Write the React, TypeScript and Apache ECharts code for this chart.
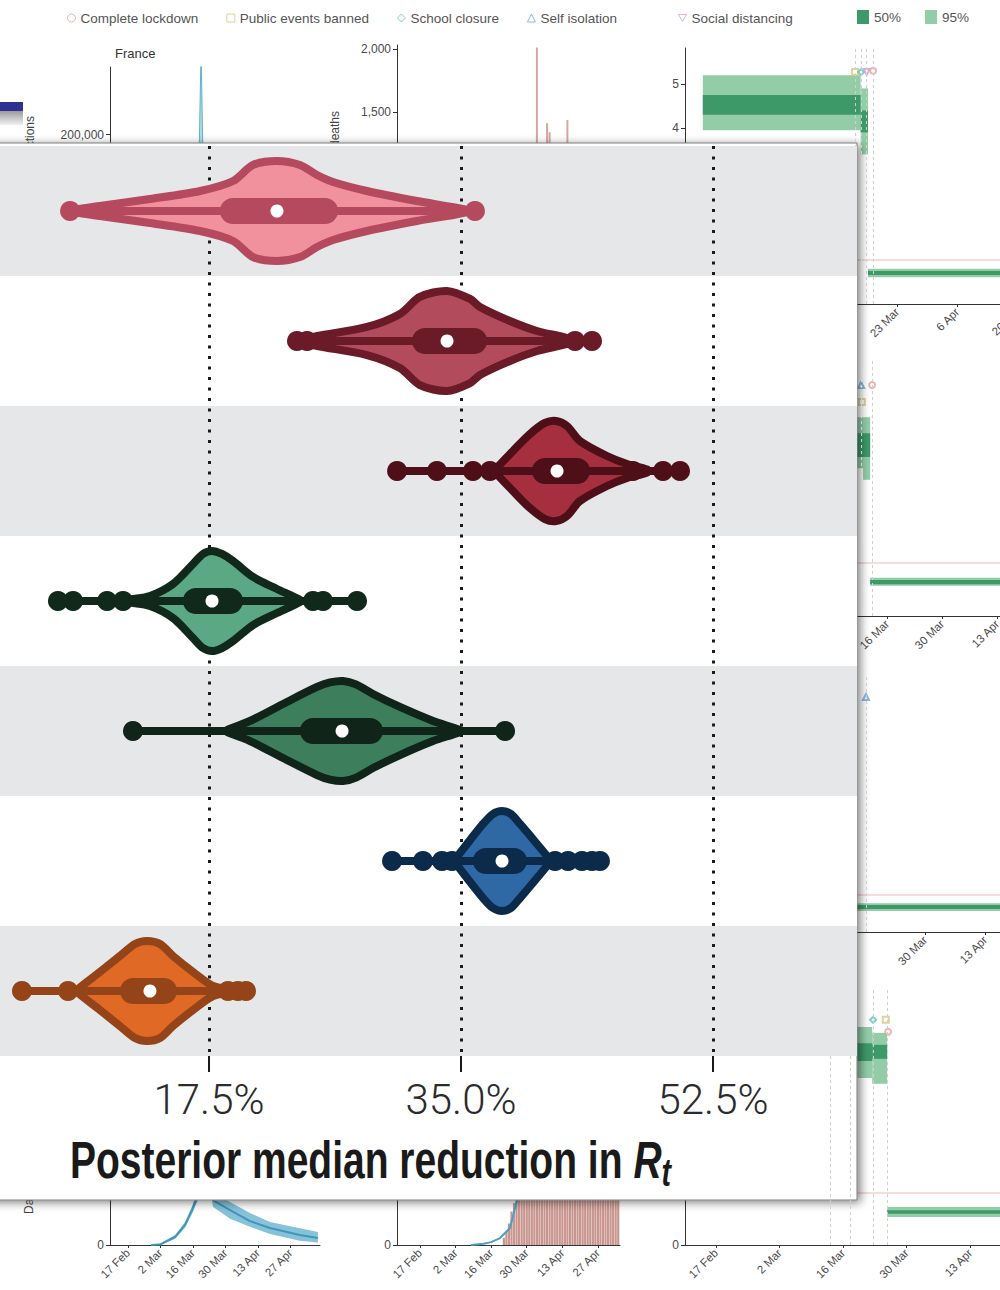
import React, { useEffect, useRef } from 'react';
import * as echarts from 'echarts';

const LIGHT = "Roboto, 'Liberation Sans', sans-serif";
const SANS = "'Liberation Sans', Arial, sans-serif";
const MONTHS = ['Jan', 'Feb', 'Mar', 'Apr', 'May', 'Jun', 'Jul', 'Aug', 'Sep', 'Oct', 'Nov', 'Dec'];

/* ---------------- violin panel: posterior reduction in Rt ---------------- */
const rowNames = ['1', '2', '3', '4', '5', '6', '7'];
const reductionTicks = [0, 17.5, 35, 52.5];

const violinFill = ['#f0919d', '#b24c5d', '#a62f3f', '#5ba984', '#3d7f5c', '#2e69a6', '#e06a25'];
const violinEdge = ['#b5495d', '#6b1a28', '#4f0f18', '#10291b', '#10241a', '#0c2a4a', '#95441a'];

const medians = [22.22, 34.03, 41.67, 17.71, 26.74, 37.85, 13.4];
const boxLow = [18.26, 31.6, 39.93, 15.69, 23.82, 35.83, 11.32];
const boxHigh = [26.46, 36.81, 43.96, 19.86, 29.58, 39.58, 15.28];
const whiskerLow = [7.85, 23.61, 30.56, 7.01, 12.22, 30.21, 4.51];
const whiskerHigh = [35.97, 44.1, 50.21, 27.78, 38.06, 44.65, 20.07];

// density profile of each posterior: positions (%) and relative half-heights
const densityAt = [
  [8.19, 9.93, 13.4, 16.88, 19.17, 20.56, 22.22, 23.82, 25.0, 26.11, 28.47, 31.94, 35.28],
  [23.82, 25.0, 28.47, 30.76, 32.15, 34.03, 35.63, 36.32, 38.4, 40.28, 42.57],
  [37.36, 38.61, 39.79, 40.83, 41.6, 42.36, 43.26, 45.14, 46.53, 47.92],
  [11.81, 13.4, 15.0, 16.39, 17.08, 17.71, 18.4, 19.17, 20.56, 22.22, 23.82],
  [18.75, 20.35, 22.64, 25.0, 25.9, 26.81, 27.71, 28.89, 30.76, 33.06, 34.93],
  [34.58, 35.42, 36.53, 37.22, 37.85, 38.47, 39.1, 40.28, 41.18],
  [8.33, 9.93, 11.32, 12.36, 13.19, 14.1, 15.0, 16.39, 17.78, 19.17],
];
const densityHeight = [
  [0.02, 0.1, 0.24, 0.4, 0.6, 0.92, 1.0, 0.92, 0.72, 0.58, 0.4, 0.2, 0.03],
  [0.02, 0.1, 0.28, 0.54, 0.88, 1.0, 0.84, 0.68, 0.4, 0.2, 0.04],
  [0.02, 0.4, 0.74, 0.96, 1.0, 0.9, 0.6, 0.3, 0.14, 0.03],
  [0.02, 0.1, 0.34, 0.74, 0.94, 1.0, 0.94, 0.8, 0.48, 0.24, 0.02],
  [0.02, 0.2, 0.54, 0.88, 0.97, 1.0, 0.93, 0.74, 0.48, 0.2, 0.02],
  [0.02, 0.34, 0.74, 0.94, 1.0, 0.94, 0.74, 0.34, 0.02],
  [0.02, 0.38, 0.7, 0.94, 1.0, 0.94, 0.7, 0.38, 0.1, 0.02],
];
// individual draws in the tails
const tailDraws = [
  [7.85, 35.97],
  [23.61, 24.31, 42.92, 44.1],
  [30.56, 33.33, 35.83, 37.01, 46.94, 49.03, 50.21],
  [7.01, 8.06, 10.42, 11.53, 24.72, 25.42, 27.78],
  [12.22, 38.06],
  [30.21, 32.36, 33.68, 34.38, 41.53, 42.43, 43.4, 44.1, 44.65],
  [4.51, 7.71, 18.82, 19.51, 20.07],
];

/* ---------------- background country panels ---------------- */
// days counted from 17 Feb 2020
const dateTicks = [0, 14, 28, 42, 56, 70];
const franceInfections = [[29.5, 0], [31.5, 300000], [33.5, 0]];
const franceDeaths = [[46, 2010], [50, 1413], [51, 1341], [58, 1437]];

const lowerInfections = [[10, 0], [13.8, 100], [20.3, 1670], [24.6, 4200], [27.6, 7300], [30.2, 10500], [33.2, 25000], [36.6, 9400], [44, 7300], [52.6, 5000], [61.2, 3560], [74.1, 2100], [81.9, 1460]];
const lowerInfectionsBand = [[13.8, 0, 300], [20.3, 1300, 2100], [24.6, 3600, 4800], [27.6, 6500, 8100], [30.2, 9400, 11600], [33.2, 22000, 28000], [36.6, 8000, 11000], [44, 5500, 9000], [52.6, 3800, 6700], [61.2, 2300, 4800], [74.1, 900, 3500], [81.9, 500, 2700]];

const lowerDeathDays = [33, 34, 35, 36, 37, 38, 39, 40, 41, 42, 43, 44, 45, 46, 47, 48, 49, 50, 51, 52, 53, 54, 55, 56, 57, 58, 59, 60, 61, 62, 63, 64, 65, 66, 67, 68, 69, 70, 71, 72, 73, 74, 75, 76, 77, 78];
const lowerDeathCounts = [30, 55, 90, 140, 175, 230, 300, 340, 365, 410, 390, 460, 520, 480, 560, 610, 590, 640, 700, 680, 650, 720, 690, 640, 600, 630, 580, 560, 540, 590, 520, 500, 470, 510, 450, 430, 420, 460, 400, 380, 350, 370, 330, 320, 300, 290];
const lowerDeathModel = [[20, 0], [25, 5], [28, 12], [31.5, 29], [35.4, 71], [38.2, 188], [41, 330]];

// Rt rows: [startDay, endDay, low, high]
const rtBand95 = [
  [[-10.3, 26.5, 3.95, 5.2], [26.5, 28.2, 3.4, 4.9], [28.2, 68.3, 0.61, 0.8]],
  [[-23.4, 21.9, 2.79, 3.75], [21.9, 23.7, 2.57, 3.75], [23.7, 66.9, 0.57, 0.72]],
  [[-14.0, 25.0, 4.5, 6.0], [25.0, 68.8, 0.57, 0.78]],
  [[-6.8, 34.4, 3.21, 4.19], [34.4, 37.7, 3.1, 4.08], [37.7, 71.4, 0.54, 0.73]],
];
const rtBand50 = [
  [[-10.3, 26.5, 4.3, 4.75], [26.5, 28.2, 3.9, 4.4], [28.2, 68.3, 0.66, 0.75]],
  [[-23.4, 23.7, 3.0, 3.45], [23.7, 66.9, 0.6, 0.68]],
  [[-14.0, 25.0, 4.9, 5.6], [25.0, 68.8, 0.62, 0.73]],
  [[-6.8, 34.4, 3.54, 3.88], [34.4, 37.7, 3.58, 3.85], [37.7, 71.4, 0.6, 0.67]],
];
const interventionDays = [[25.2, 26.6, 27.9, 29.4], [21.4, 24.2], [28.2], [25.1, 29.5, 34.6, 37.7]];
const lockdownMarks = [[[29.4, 5.3]], [[24.2, 4.36]], [], [[37.9, 4.1]]];
const eventsBannedMarks = [[[25.2, 5.27]], [[21.6, 4.04]], [], [[37.4, 4.33]]];
const schoolClosureMarks = [[[26.6, 5.27]], [], [], [[34.6, 4.33]]];
const selfIsolationMarks = [[], [[21.4, 4.36]], [[28.2, 6.35]], []];
const socialDistancingMarks = [[[27.9, 5.27]], [], [], []];

const rtRows = [
  { axisY: 304, pxPerUnit: 44, day0: 747, pxPerDay: 4.29, ticks: [35, 49, 63], showY: true, yTicks: [4, 5] },
  { axisY: 616, pxPerUnit: 53, day0: 777, pxPerDay: 3.93, ticks: [28, 42, 56], showY: false, yTicks: [] },
  { axisY: 932, pxPerUnit: 37, day0: 745, pxPerDay: 4.29, ticks: [42, 56], showY: false, yTicks: [] },
  { axisY: 1245, pxPerUnit: 52, day0: 716, pxPerDay: 4.54, ticks: [0, 14, 28, 42, 56], showY: true, yTicks: [0] },
];
const RT_LEFT = 685;
const RT_RIGHT = 1040;
const RT_H = 256;

const markerLook: any = {
  'Complete lockdown': { symbol: 'emptyCircle', color: '#e3a29e', icon: 'circle' },
  'Public events banned': { symbol: 'emptyRect', color: '#d6c784', icon: 'rect' },
  'School closure': { symbol: 'emptyDiamond', color: '#5fc2b6', icon: 'diamond' },
  'Self isolation': { symbol: 'emptyTriangle', color: '#72a8da', icon: 'triangle' },
  'Social distancing': { symbol: 'emptyTriangle', color: '#d29ccf', icon: 'path://M0,0L10,0L5,9Z', rotate: 180 },
};
const COLOR_50 = '#3d9a68';
const COLOR_95 = '#93cda8';

const dayLabel = (d: number) => {
  const dt = new Date(2020, 1, 17 + Math.round(d));
  return dt.getDate() + ' ' + MONTHS[dt.getMonth()];
};
const countLabel = (v: number) => Math.round(v).toLocaleString('en-US');
const smallText = { fontFamily: SANS, fontSize: 11.5, color: '#4a4a4a' };

function dateAxis(gridIndex: number, min: number, max: number, ticks: number[]) {
  return {
    type: 'value', gridIndex, min, max, z: 1,
    axisLine: { show: true, onZero: false, lineStyle: { color: '#333', width: 1 } },
    axisTick: { show: true, length: 3, customValues: ticks, lineStyle: { color: '#333' } },
    axisLabel: { show: true, customValues: ticks, rotate: 45, margin: 6, formatter: dayLabel, ...smallText },
    splitLine: { show: false },
  };
}
function hiddenAxis(gridIndex: number, min: number, max: number) {
  return { type: 'value', gridIndex, min, max, show: false, splitLine: { show: false } };
}
function countAxis(gridIndex: number, max: number, ticks: number[]) {
  return {
    type: 'value', gridIndex, min: 0, max, z: 1,
    axisLine: { show: true, onZero: false, lineStyle: { color: '#333', width: 1 } },
    axisTick: { show: true, length: 4, customValues: ticks, lineStyle: { color: '#333' } },
    axisLabel: { show: true, customValues: ticks, margin: 6, formatter: countLabel, ...smallText, fontSize: 12 },
    splitLine: { show: false },
  };
}

function renderViolin(params: any, api: any) {
  const i = params.dataIndex;
  const row = api.value(1);
  const band = api.size([0, 1])[1];
  const maxHalf = band * 0.385;
  const cy = api.coord([0, row])[1];
  const px = (v: number) => api.coord([v, row])[0];
  const edge = violinEdge[i];
  const xs = densityAt[i];
  const hs = densityHeight[i];
  const top = xs.map((x, k) => [px(x), cy - hs[k] * maxHalf]);
  const bottom = xs.map((x, k) => [px(x), cy + hs[k] * maxHalf]).reverse();
  const whiskerShape = { x1: px(whiskerLow[i]), y1: cy, x2: px(whiskerHigh[i]), y2: cy };
  const children: any[] = [
    { type: 'line', shape: whiskerShape, style: { stroke: edge, lineWidth: 8, lineCap: 'round' } },
    {
      type: 'polygon',
      shape: { points: top.concat(bottom), smooth: 0.3 },
      style: { fill: violinFill[i], stroke: edge, lineWidth: 8, lineJoin: 'round' },
    },
    { type: 'line', shape: { ...whiskerShape }, style: { stroke: edge, lineWidth: 8, lineCap: 'round' } },
  ];
  tailDraws[i].forEach((v) => {
    children.push({ type: 'circle', shape: { cx: px(v), cy, r: 10 }, style: { fill: edge } });
  });
  const b0 = px(boxLow[i]);
  const b1 = px(boxHigh[i]);
  children.push({ type: 'rect', shape: { x: b0, y: cy - 13, width: b1 - b0, height: 26, r: 13 }, style: { fill: edge } });
  children.push({ type: 'circle', shape: { cx: px(medians[i]), cy, r: 6.5 }, style: { fill: '#ffffff' } });
  return { type: 'group', children };
}

function segmentRenderer(color: string) {
  return (params: any, api: any) => {
    const p0 = api.coord([api.value(0), api.value(3)]);
    const p1 = api.coord([api.value(1), api.value(2)]);
    return { type: 'rect', shape: { x: p0[0], y: p0[1], width: p1[0] - p0[0], height: p1[1] - p0[1] }, style: { fill: color } };
  };
}
function bandRenderer(rows: number[][], color: string) {
  return (params: any, api: any) => {
    if (params.dataIndex !== 0) return null;
    const upper = rows.map((r) => api.coord([r[0], r[2]]));
    const lower = rows.map((r) => api.coord([r[0], r[1]])).reverse();
    return { type: 'polygon', shape: { points: upper.concat(lower) }, style: { fill: color } };
  };
}

function buildOption() {
  const grid: any[] = [];
  const xAxis: any[] = [];
  const yAxis: any[] = [];
  const series: any[] = [];

  // violin panel
  grid.push({ left: -43, top: 146, width: 900, height: 910 });
  xAxis.push({
    type: 'value', gridIndex: 0, min: 0, max: 62.5, z: 9,
    axisLine: { show: false },
    axisTick: { show: true, customValues: reductionTicks, length: 16, lineStyle: { color: '#1a1a1a', width: 2 } },
    axisLabel: {
      show: true, customValues: reductionTicks, margin: 22,
      formatter: (v: number) => v.toFixed(1) + '%',
      fontFamily: LIGHT, fontWeight: 300, fontSize: 42, color: '#2b2b2b',
    },
    splitLine: { show: true, lineStyle: { type: [3, 7.5], width: 3, color: '#1a1a1a' } },
  });
  yAxis.push({
    type: 'category', gridIndex: 0, data: rowNames, inverse: true, z: 8,
    axisLine: { show: false }, axisTick: { show: false }, axisLabel: { show: false },
    splitLine: { show: false },
    splitArea: { show: true, interval: 0, areaStyle: { color: ['#e6e7e9', '#ffffff'] } },
  });
  series.push({
    type: 'custom', name: 'Posterior', xAxisIndex: 0, yAxisIndex: 0, z: 10, silent: true,
    renderItem: renderViolin, encode: { x: 0, y: 1 }, data: medians.map((m, i) => [m, i]),
  });

  // France infections
  grid.push({ left: 110, top: 67, width: 210, height: 237 });
  xAxis.push(hiddenAxis(1, -7.76, 82.8));
  yAxis.push(countAxis(1, 280000, [200000]));
  series.push({
    type: 'line', name: 'Infections', xAxisIndex: 1, yAxisIndex: 1, data: franceInfections, symbol: 'none', z: 2,
    lineStyle: { color: '#5fb3cb', width: 1 }, areaStyle: { color: '#8fcadb' },
  });

  // France deaths
  grid.push({ left: 397, top: 45, width: 223, height: 257 });
  xAxis.push(hiddenAxis(2, -9.06, 78.7));
  yAxis.push(countAxis(2, 2030, [1500, 2000]));
  series.push({
    type: 'bar', name: 'Deaths', xAxisIndex: 2, yAxisIndex: 2, data: franceDeaths, barWidth: 2, z: 2,
    itemStyle: { color: '#d7a6a1' },
  });

  // Rt rows
  const markerSets: any[] = [
    ['Complete lockdown', lockdownMarks],
    ['Public events banned', eventsBannedMarks],
    ['School closure', schoolClosureMarks],
    ['Self isolation', selfIsolationMarks],
    ['Social distancing', socialDistancingMarks],
  ];
  rtRows.forEach((r, k) => {
    const gi = grid.length;
    grid.push({ left: RT_LEFT, top: r.axisY - RT_H, width: RT_RIGHT - RT_LEFT, height: RT_H });
    const xMin = (RT_LEFT - r.day0) / r.pxPerDay;
    const xMax = (RT_RIGHT - r.day0) / r.pxPerDay;
    xAxis.push(dateAxis(gi, xMin, xMax, r.ticks));
    if (r.showY) yAxis.push(countAxis(gi, RT_H / r.pxPerUnit, r.yTicks));
    else yAxis.push({ type: 'value', gridIndex: gi, min: 0, max: RT_H / r.pxPerUnit, show: false, splitLine: { show: false } });
    series.push({
      type: 'custom', name: '95%', xAxisIndex: gi, yAxisIndex: gi, z: 2, silent: true,
      renderItem: segmentRenderer(COLOR_95), encode: { x: [0, 1], y: [2, 3] }, data: rtBand95[k], itemStyle: { color: COLOR_95 },
    });
    series.push({
      type: 'custom', name: '50%', xAxisIndex: gi, yAxisIndex: gi, z: 2, silent: true,
      renderItem: segmentRenderer(COLOR_50), encode: { x: [0, 1], y: [2, 3] }, data: rtBand50[k], itemStyle: { color: COLOR_50 },
    });
    series.push({
      type: 'line', name: 'Rt = 1', xAxisIndex: gi, yAxisIndex: gi, z: 2, silent: true, symbol: 'none',
      data: [[xMin, 1], [xMax, 1]], lineStyle: { color: '#efb9b6', width: 1 },
      markLine: {
        silent: true, symbol: 'none', label: { show: false },
        lineStyle: { color: '#cfcfcf', type: [3, 3], width: 1 },
        data: interventionDays[k].map((d) => ({ xAxis: d })),
      },
    });
    markerSets.forEach(([name, sets]) => {
      if (!sets[k].length) return;
      const look = markerLook[name];
      series.push({
        type: 'scatter', name, xAxisIndex: gi, yAxisIndex: gi, z: 3, silent: true,
        symbol: look.symbol, symbolSize: 6, symbolRotate: look.rotate || 0,
        itemStyle: { color: look.color, borderWidth: 1 }, data: sets[k],
      });
    });
  });

  // lower infections panel
  const gl = grid.length;
  grid.push({ left: 110, top: 1006, width: 210, height: 239 });
  xAxis.push(dateAxis(gl, -7.76, 82.8, dateTicks));
  yAxis.push(countAxis(gl, 50000, [0]));
  series.push({
    type: 'custom', name: 'Infections band', xAxisIndex: gl, yAxisIndex: gl, z: 2, silent: true,
    renderItem: bandRenderer(lowerInfectionsBand, '#86c2d8'), encode: { x: 0, y: [1, 2] }, data: lowerInfectionsBand,
  });
  series.push({
    type: 'line', name: 'Infections', xAxisIndex: gl, yAxisIndex: gl, data: lowerInfections, symbol: 'none', z: 3,
    lineStyle: { color: '#3f95ba', width: 2 },
  });

  // lower deaths panel
  const gm = grid.length;
  grid.push({ left: 397, top: 1006, width: 223, height: 239 });
  xAxis.push(dateAxis(gm, -9.06, 78.7, dateTicks));
  yAxis.push(countAxis(gm, 1000, [0]));
  series.push({
    type: 'bar', name: 'Deaths', xAxisIndex: gm, yAxisIndex: gm, barWidth: 2.2, z: 2,
    data: lowerDeathDays.map((d, i) => [d, lowerDeathCounts[i]]), itemStyle: { color: '#c9968f' },
  });
  series.push({
    type: 'line', name: 'Modelled deaths', xAxisIndex: gm, yAxisIndex: gm, data: lowerDeathModel, symbol: 'none', z: 3,
    lineStyle: { color: '#4aa0c0', width: 2 },
  });

  grid.forEach((g) => { g.show = false; g.containLabel = false; g.outerBoundsMode = 'none'; });

  const legendText = { fontFamily: SANS, fontSize: 13.5, color: '#555' };
  const markerLegendItem = (name: string) => ({
    name, icon: markerLook[name].icon,
    itemStyle: { color: '#ffffff', borderColor: markerLook[name].color, borderWidth: 1 },
  });

  return {
    animation: false,
    backgroundColor: '#ffffff',
    grid, xAxis, yAxis, series,
    legend: [
      {
        left: 62, top: 6, itemWidth: 8, itemHeight: 8, itemGap: 28, selectedMode: false, textStyle: legendText,
        data: ['Complete lockdown', 'Public events banned', 'School closure', 'Self isolation'].map(markerLegendItem),
      },
      {
        left: 673, top: 6, itemWidth: 8, itemHeight: 8, selectedMode: false, textStyle: legendText,
        data: [markerLegendItem('Social distancing')],
      },
      {
        left: 852, top: 5, itemWidth: 12, itemHeight: 14, itemGap: 24, selectedMode: false, textStyle: legendText,
        data: [
          { name: '50%', icon: 'rect', itemStyle: { color: COLOR_50 } },
          { name: '95%', icon: 'rect', itemStyle: { color: COLOR_95 } },
        ],
      },
    ],
    graphic: [
      { type: 'rect', z: 1, shape: { x: 0, y: 102, width: 23, height: 9 }, style: { fill: '#2e3192' } },
      {
        type: 'rect', z: 1, shape: { x: 0, y: 111, width: 23, height: 14 },
        style: { fill: new echarts.graphic.LinearGradient(0, 0, 0, 1, [{ offset: 0, color: '#9a9a9a' }, { offset: 1, color: '#f2f2f2' }]) },
      },
      { type: 'text', z: 1, x: 115, y: 53, style: { text: 'France', fontFamily: SANS, fontSize: 13, fill: '#333', verticalAlign: 'middle' } },
      { type: 'text', z: 1, x: 30, y: 116, rotation: Math.PI / 2, style: { text: 'Daily infections', fontFamily: SANS, fontSize: 12, fill: '#444', align: 'right', verticalAlign: 'middle' } },
      { type: 'text', z: 1, x: 335, y: 111, rotation: Math.PI / 2, style: { text: 'Daily deaths', fontFamily: SANS, fontSize: 12, fill: '#444', align: 'right', verticalAlign: 'middle' } },
      { type: 'text', z: 1, x: 29, y: 1214, rotation: Math.PI / 2, style: { text: 'Daily infections', fontFamily: SANS, fontSize: 12, fill: '#444', align: 'left', verticalAlign: 'middle' } },
      {
        type: 'rect', z: 5, shape: { x: -20, y: 143, width: 877, height: 1057 },
        style: { fill: '#ffffff', stroke: '#7a7a7a', lineWidth: 1, shadowBlur: 10, shadowOffsetX: 3, shadowOffsetY: 2, shadowColor: 'rgba(0,0,0,0.5)' },
      },
      {
        type: 'text', z: 10, x: 70, y: 1160, scaleX: 0.75,
        style: {
          text: '{a|Posterior median reduction in }{r|R}{s|t}',
          verticalAlign: 'middle',
          rich: {
            a: { fontFamily: SANS, fontSize: 52, fontWeight: 'bold', lineHeight: 64, fill: '#1a1a1a' },
            r: { fontFamily: SANS, fontSize: 52, fontWeight: 'bold', fontStyle: 'italic', lineHeight: 64, fill: '#1a1a1a' },
            s: { fontFamily: SANS, fontSize: 38, fontWeight: 'bold', fontStyle: 'italic', lineHeight: 34, verticalAlign: 'bottom', fill: '#1a1a1a' },
          },
        },
      },
    ],
  };
}

export default function App() {
  const ref = useRef<HTMLDivElement>(null);
  useEffect(() => {
    const chart = echarts.init(ref.current as HTMLDivElement, null, { renderer: 'svg' });
    chart.setOption(buildOption() as any);
    return () => chart.dispose();
  }, []);
  return <div ref={ref} style={{ position: 'absolute', left: 0, top: 0, width: 1000, height: 1290, background: '#fff' }} />;
}
